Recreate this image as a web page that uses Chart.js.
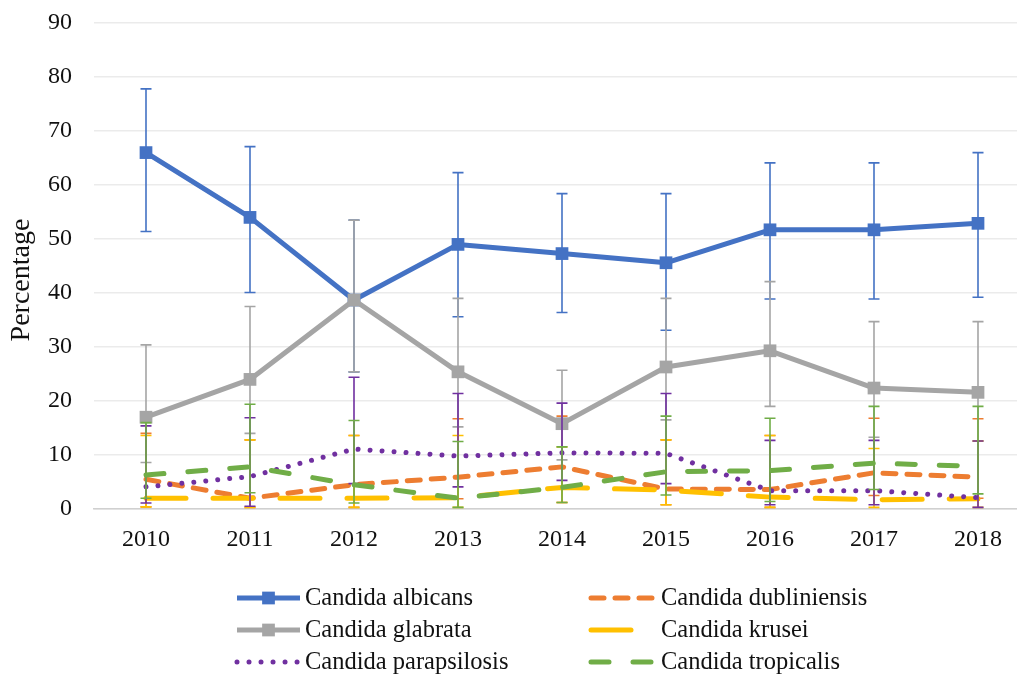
<!DOCTYPE html>
<html>
<head>
<meta charset="utf-8">
<title>Candida species 2010-2018</title>
<script src="https://cdn.jsdelivr.net/npm/chart.js@4.4.1/dist/chart.umd.min.js"></script>
<style>
  html, body { margin: 0; padding: 0; background: #fff; overflow: hidden; }
  #wrap { position: relative; width: 1039px; height: 674px; }
</style>
</head>
<body>
<div id="wrap"><canvas id="chart"></canvas></div>
<script>
const years = ["2010", "2011", "2012", "2013", "2014", "2015", "2016", "2017", "2018"];
const yTicks = [0, 10, 20, 30, 40, 50, 60, 70, 80, 90];

const albicans = [66.0, 54.0, 38.7, 49.0, 47.3, 45.6, 51.7, 51.7, 52.9];
const albicansHigh = [77.8, 67.1, 53.5, 62.3, 58.4, 58.4, 64.1, 64.1, 66.0];
const albicansLow = [51.4, 40.1, 25.4, 35.6, 36.4, 33.1, 38.9, 38.9, 39.2];

const dubliniensis = [5.5, 2.0, 4.5, 5.9, 7.8, 3.7, 3.6, 6.7, 5.9];
const dubliniensisHigh = [14.0, 12.8, 13.6, 16.7, 17.2, 12.8, 13.6, 16.8, 16.7];
const dubliniensisLow = [0.4, 0.3, 0.3, 1.9, 1.2, 0.8, 0.3, 2.5, 2.0];

const glabrata = [17.0, 24.0, 38.7, 25.4, 15.8, 26.3, 29.3, 22.4, 21.6];
const glabrataHigh = [30.4, 37.5, 53.5, 39.0, 25.7, 39.0, 42.1, 34.7, 34.7];
const glabrataLow = [8.6, 14.0, 25.4, 15.2, 9.1, 16.5, 19.0, 13.3, 12.6];

const krusei = [2.0, 2.0, 2.0, 2.1, 4.0, 3.5, 2.2, 1.7, 1.9];
const kruseiHigh = [13.6, 12.8, 13.6, 13.6, 11.5, 12.8, 13.6, 11.2, 12.6];
const kruseiLow = [0.4, 0.3, 0.3, 0.3, 1.2, 0.8, 0.3, 0.3, 0.3];

const parapsilosis = [4.1, 6.0, 11.1, 9.8, 10.4, 10.3, 3.4, 3.4, 2.1];
const parapsilosisHigh = [15.4, 16.9, 24.4, 21.4, 19.6, 21.4, 12.7, 12.7, 12.6];
const parapsilosisLow = [1.1, 0.5, 4.7, 4.1, 5.3, 4.7, 0.8, 0.8, 0.3];

const tropicalis = [6.3, 7.8, 4.5, 2.0, 4.0, 6.9, 7.1, 8.5, 7.9];
const tropicalisHigh = [16.0, 19.4, 16.4, 12.5, 11.5, 17.2, 16.8, 19.0, 19.0];
const tropicalisLow = [2.0, 3.0, 1.1, 0.3, 1.2, 2.6, 1.4, 3.6, 2.8];

const serifFont = "'Liberation Serif', 'Times New Roman', serif";
const textColor = "#111";

// legend is two columns, row-major in series order
const legendRows = [598, 630, 662];
const legendCols = [{ lineX: 237, textX: 305 }, { lineX: 591, textX: 661 }];
const legendLineLength = 63;

function makeDataset(label, data, low, high, color, dash, marker, order) {
  return {
    label,
    data,
    errLow: low,
    errHigh: high,
    borderColor: color,
    backgroundColor: color,
    borderWidth: 5,
    borderDash: dash,
    borderCapStyle: dash.length ? "round" : "butt",
    borderJoinStyle: "round",
    pointStyle: "rect",
    pointRadius: marker ? 9 : 0,
    pointBorderWidth: 0,
    pointBackgroundColor: color,
    fill: false,
    tension: 0,
    order
  };
}

const datasets = [
  makeDataset("Candida albicans", albicans, albicansLow, albicansHigh, "#4472C4", [], true, 6),
  makeDataset("Candida dubliniensis", dubliniensis, dubliniensisLow, dubliniensisHigh, "#ED7D31", [13, 11], false, 5),
  makeDataset("Candida glabrata", glabrata, glabrataLow, glabrataHigh, "#A5A5A5", [], true, 4),
  makeDataset("Candida krusei", krusei, kruseiLow, kruseiHigh, "#FFC000", [40, 27], false, 3),
  makeDataset("Candida parapsilosis", parapsilosis, parapsilosisLow, parapsilosisHigh, "#7030A0", [0.01, 12], false, 2),
  makeDataset("Candida tropicalis", tropicalis, tropicalisLow, tropicalisHigh, "#70AD47", [18, 24], false, 1)
];

// error bars go under each series' own line
const errorBarPlugin = {
  id: "errorBars",
  beforeDatasetDraw(chart, args) {
    const ds = chart.data.datasets[args.index];
    const yScale = chart.scales.y;
    const ctx = chart.ctx;
    ctx.save();
    ctx.strokeStyle = ds.borderColor;
    ctx.lineWidth = 1.6;
    ctx.setLineDash([]);
    args.meta.data.forEach((pt, i) => {
      const top = yScale.getPixelForValue(ds.errHigh[i]);
      const bottom = yScale.getPixelForValue(ds.errLow[i]);
      ctx.beginPath();
      ctx.moveTo(pt.x, top);
      ctx.lineTo(pt.x, bottom);
      ctx.moveTo(pt.x - 5.5, top);
      ctx.lineTo(pt.x + 5.5, top);
      ctx.moveTo(pt.x - 5.5, bottom);
      ctx.lineTo(pt.x + 5.5, bottom);
      ctx.stroke();
    });
    ctx.restore();
  }
};

const axisTitlePlugin = {
  id: "axisTitle",
  afterDraw(chart) {
    const ctx = chart.ctx;
    ctx.save();
    ctx.translate(22, 280);
    ctx.rotate(-Math.PI / 2);
    ctx.font = "28px " + serifFont;
    ctx.fillStyle = textColor;
    ctx.textAlign = "center";
    ctx.textBaseline = "middle";
    ctx.fillText("Percentage", 0, 0);
    ctx.restore();
  }
};

const legendPlugin = {
  id: "gridLegend",
  afterDraw(chart) {
    const ctx = chart.ctx;
    chart.data.datasets.forEach((ds, i) => {
      const y = legendRows[Math.floor(i / 2)];
      const col = legendCols[i % 2];
      ctx.save();
      ctx.strokeStyle = ds.borderColor;
      ctx.lineWidth = ds.borderWidth;
      ctx.lineCap = ds.borderCapStyle;
      ctx.setLineDash(ds.borderDash);
      ctx.beginPath();
      ctx.moveTo(col.lineX, y);
      ctx.lineTo(col.lineX + legendLineLength, y);
      ctx.stroke();
      if (ds.pointRadius > 0) {
        const half = ds.pointRadius * Math.SQRT1_2;
        ctx.fillStyle = ds.pointBackgroundColor;
        ctx.fillRect(col.lineX + legendLineLength / 2 - half, y - half, half * 2, half * 2);
      }
      ctx.font = "24.5px " + serifFont;
      ctx.fillStyle = textColor;
      ctx.textAlign = "left";
      ctx.textBaseline = "middle";
      ctx.fillText(ds.label, col.textX, y + 1);
      ctx.restore();
    });
  }
};

new Chart(document.getElementById("chart"), {
  type: "line",
  data: { labels: years, datasets },
  options: {
    responsive: true,
    maintainAspectRatio: false,
    animation: false,
    events: [],
    layout: { padding: { top: 23, right: 0, bottom: 0, left: 0 } },
    plugins: {
      legend: { display: false },
      tooltip: { enabled: false }
    },
    scales: {
      x: {
        offset: true,
        grid: { display: false },
        border: { color: "#d0d0d0", width: 1.5 },
        ticks: { color: textColor, font: { family: serifFont, size: 24 }, padding: 8 },
        afterFit(scale) {
          scale.height = 165;
          scale.paddingLeft = 0;
          scale.paddingRight = 0;
        }
      },
      y: {
        min: 0,
        max: 90,
        afterBuildTicks(scale) { scale.ticks = yTicks.map((v) => ({ value: v })); },
        grid: { color: "#ebebeb", lineWidth: 1.5, drawTicks: false },
        border: { display: false },
        ticks: { color: textColor, font: { family: serifFont, size: 24 }, padding: 22 },
        afterFit(scale) {
          scale.width = 94;
          scale.paddingTop = 0;
          scale.paddingBottom = 0;
        }
      }
    }
  },
  plugins: [errorBarPlugin, axisTitlePlugin, legendPlugin]
});
</script>
</body>
</html>
